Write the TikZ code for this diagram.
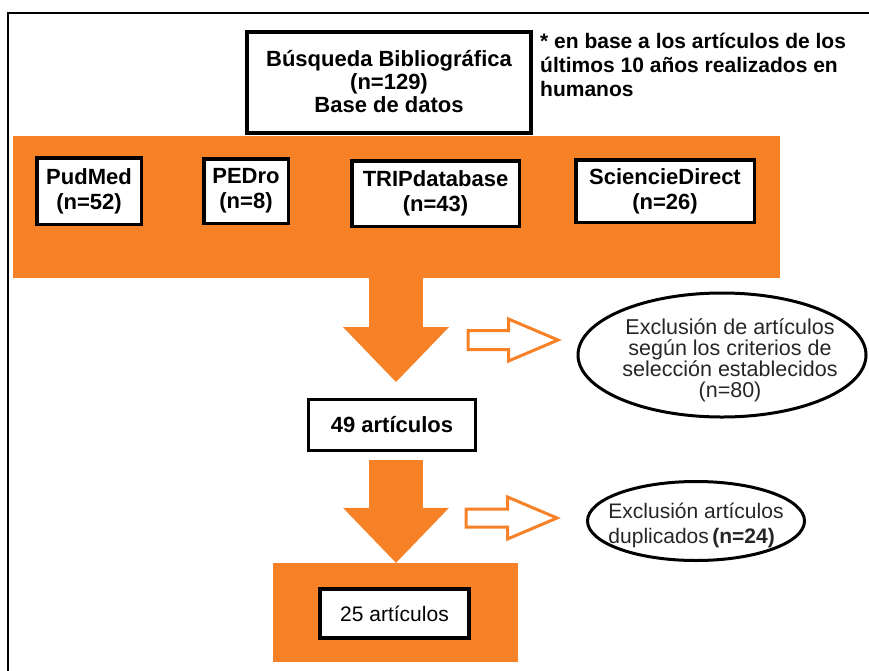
\documentclass[tikz,border=0pt]{standalone}
\usepackage{fontspec}
\setmainfont{Liberation Sans}
\usetikzlibrary{positioning,calc,arrows.meta,shapes.geometric,shapes.arrows}
\definecolor{flowOrange}{RGB}{247,129,38}
\tikzset{
  panel/.style={rectangle, fill=flowOrange, inner sep=0pt},
  dbbox/.style={
    rectangle,
    draw=black, line width=3.5pt,
    fill=white,
    inner sep=0pt,
    align=center,
    font=\fontsize{22}{25}\selectfont\bfseries},
  exclusion/.style={ellipse, draw=black, line width=3pt, fill=white, inner sep=0pt},
  excltext/.style={inner sep=0pt, text=black!85},
  bigflow/.style={draw=flowOrange, line width=54pt,
    -{Triangle[width=106pt,length=55pt,line width=0pt]}},
  sideflow/.style={single arrow, draw=flowOrange, line width=3pt, fill=white,
    inner xsep=0pt, single arrow head indent=0pt, anchor=tail},
}
\begin{document}
\begin{tikzpicture}[x=1pt,y=-1pt]
      \clip (0,0) rectangle (869,670);
      \fill[white] (0,0) rectangle (869,670);
      \draw[line width=1.5pt] (8,690) -- (8,13) -- (890,13);

      % databases
      \node[panel, minimum width=767pt, minimum height=142pt] (DbPanel) at (396.5,207) {};
      \node[dbbox, line width=4pt, minimum width=284pt, minimum height=101pt,
            font=\fontsize{22}{23}\selectfont\bfseries] (Search) at (389,82)
            {Búsqueda Bibliográfica\\(n=129)\\Base de datos};
      \node[anchor=north west, inner sep=0pt, align=left,
            font=\fontsize{21}{24}\selectfont\bfseries] (Note) at (540,33)
            {* en base a los artículos de los\\últimos 10 años realizados en\\humanos};

      \node[dbbox, minimum width=104.5pt, minimum height=66.5pt] (PudMed) at (89,191) {PudMed\\(n=52)};
      \node[dbbox, minimum width=84.5pt, minimum height=64.5pt] (PEDro) at (246,191) {PEDro\\(n=8)};
      \node[dbbox, minimum width=167.5pt, minimum height=65.5pt] (TRIP) at (435.5,193.5) {TRIPdatabase\\(n=43)};
      \node[dbbox, minimum width=178.5pt, minimum height=62.5pt] (Science) at (665,191) {SciencieDirect\\(n=26)};

      % selection
      \coordinate (FlowAxis) at (396,0);
      \node[dbbox, line width=3pt, minimum width=167pt, minimum height=51pt] (Found) at (392,425) {49 artículos};
      \node[panel, minimum width=245pt, minimum height=99pt] (ResultPanel) at (395.5,612.5) {};
      \node[dbbox, line width=4pt, minimum width=149pt, minimum height=49pt,
            font=\fontsize{21}{24}\selectfont] (Result) at (394.5,613.5) {25 artículos};

      \draw[bigflow] (DbPanel.south -| FlowAxis) -- ($(Found.north -| FlowAxis)+(0,-16)$);
      \draw[bigflow] ($(Found.south -| FlowAxis)+(0,8)$) -- (ResultPanel.north -| FlowAxis);

      % exclusions
      \node[sideflow, inner ysep=8pt, minimum height=90pt,
            single arrow head extend=11.5pt, single arrow tip angle=46] (ToCriteria) at (466.5,340) {};
      \node[exclusion, minimum width=288pt, minimum height=124pt] (ExclCriteria) at (722,355) {};
      \node[excltext, align=center, font=\fontsize{21.5}{21}\selectfont] (ExclCriteriaText) at ([xshift=8pt,yshift=-5pt]ExclCriteria.center)
            {Exclusión de artículos\\según los criterios de\\selección establecidos\\(n=80)};

      \node[sideflow, inner ysep=7.5pt, minimum height=91pt,
            single arrow head extend=12pt, single arrow tip angle=46] (ToDup) at (464.5,518) {};
      \node[exclusion, minimum width=217pt, minimum height=79pt] (ExclDup) at (696,521) {};
      \node[excltext, align=left, font=\fontsize{21}{25}\selectfont] (ExclDupText) at ([yshift=-4pt]ExclDup.center)
            {Exclusión artículos\\duplicados\,\textbf{(n=24)}};
\end{tikzpicture}
\end{document}
